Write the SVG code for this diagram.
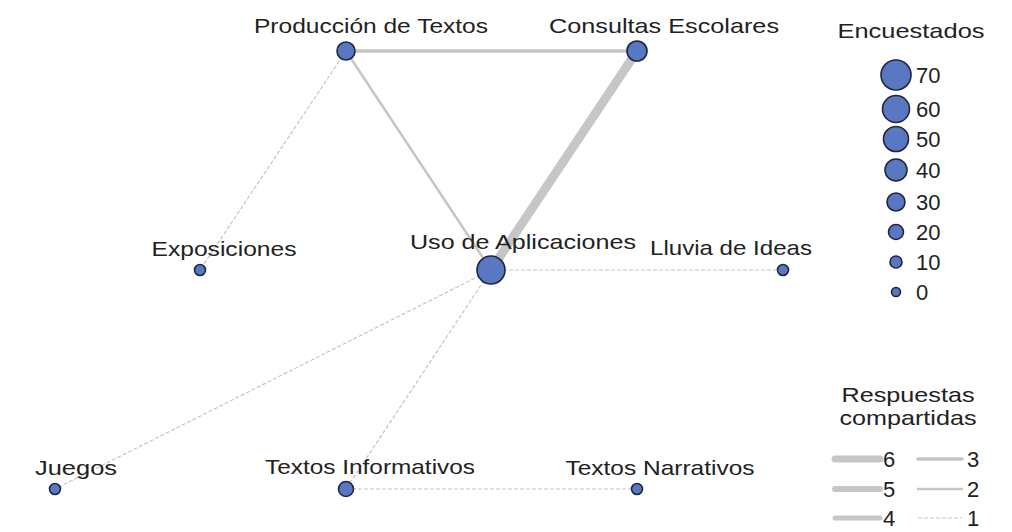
<svg xmlns="http://www.w3.org/2000/svg" width="1012" height="532" viewBox="0 0 1012 532">
<style>
text{font-family:"Liberation Sans",Arial,sans-serif;font-size:21px;fill:#222}
.lbl{text-anchor:middle}
.num{font-size:22px}
.node{fill:#5a78c2;stroke:#1e2640;stroke-width:1.6}
.e{stroke:#c6c6c6;fill:none;stroke-linecap:round}
.d{stroke:#c6c6c6;fill:none;stroke-width:1.2;stroke-dasharray:4 2}
</style>
<rect width="1012" height="532" fill="#fff"/>
<g id="connectors">
<line class="e" x1="346" y1="51" x2="637" y2="51" stroke-width="3.5"/>
<line class="e" x1="346" y1="51" x2="491" y2="270" stroke-width="2.5"/>
<line class="e" x1="637" y1="51" x2="491" y2="270" stroke-width="9"/>
<line class="d" x1="346" y1="51" x2="200" y2="270"/>
<line class="d" x1="491" y1="270" x2="783" y2="270"/>
<line class="d" x1="491" y1="270" x2="55" y2="489"/>
<line class="d" x1="491" y1="270" x2="346" y2="489"/>
<line class="d" x1="346" y1="489" x2="637" y2="489"/>
</g>
<g id="n-produccion"><circle class="node" cx="346" cy="51" r="9"/><text class="lbl" x="371" y="33" textLength="234" lengthAdjust="spacingAndGlyphs">Producción de Textos</text></g>
<g id="n-consultas"><circle class="node" cx="637" cy="51" r="10"/><text class="lbl" x="664" y="33" textLength="230" lengthAdjust="spacingAndGlyphs">Consultas Escolares</text></g>
<g id="n-exposiciones"><circle class="node" cx="200" cy="270" r="5.5"/><text class="lbl" x="224" y="256" textLength="145" lengthAdjust="spacingAndGlyphs">Exposiciones</text></g>
<g id="n-uso"><circle class="node" cx="491" cy="270" r="14"/><text class="lbl" x="523" y="249" textLength="226" lengthAdjust="spacingAndGlyphs">Uso de Aplicaciones</text></g>
<g id="n-lluvia"><circle class="node" cx="783" cy="270" r="5.5"/><text class="lbl" x="731" y="255" textLength="162" lengthAdjust="spacingAndGlyphs">Lluvia de Ideas</text></g>
<g id="n-juegos"><circle class="node" cx="55" cy="489" r="5.5"/><text class="lbl" x="76" y="475" textLength="82" lengthAdjust="spacingAndGlyphs">Juegos</text></g>
<g id="n-informativos"><circle class="node" cx="346" cy="489" r="7.5"/><text class="lbl" x="370" y="474" textLength="210" lengthAdjust="spacingAndGlyphs">Textos Informativos</text></g>
<g id="n-narrativos"><circle class="node" cx="637" cy="489" r="5.5"/><text class="lbl" x="660" y="475" textLength="189" lengthAdjust="spacingAndGlyphs">Textos Narrativos</text></g>
<g id="legend-size">
<text class="lbl" x="911" y="38" textLength="147" lengthAdjust="spacingAndGlyphs">Encuestados</text>
<circle class="node" cx="896" cy="75" r="15"/><text class="num" x="916" y="83">70</text>
<circle class="node" cx="896" cy="109" r="13.5"/><text class="num" x="916" y="117">60</text>
<circle class="node" cx="896" cy="139" r="12.5"/><text class="num" x="916" y="147">50</text>
<circle class="node" cx="896" cy="170" r="11"/><text class="num" x="916" y="178">40</text>
<circle class="node" cx="896" cy="202" r="9"/><text class="num" x="916" y="210">30</text>
<circle class="node" cx="896" cy="232" r="7.5"/><text class="num" x="916" y="240">20</text>
<circle class="node" cx="896" cy="262" r="6"/><text class="num" x="916" y="270">10</text>
<circle class="node" cx="896" cy="292" r="4.5"/><text class="num" x="916" y="300">0</text>
</g>
<g id="legend-width">
<text class="lbl" x="908" y="402" textLength="133" lengthAdjust="spacingAndGlyphs">Respuestas</text>
<text class="lbl" x="908" y="425" textLength="137" lengthAdjust="spacingAndGlyphs">compartidas</text>
<line class="e" x1="835" y1="459" x2="880" y2="459" stroke-width="7"/><text class="num" x="883" y="467">6</text>
<line class="e" x1="835" y1="489" x2="880" y2="489" stroke-width="6"/><text class="num" x="883" y="497">5</text>
<line class="e" x1="835" y1="518" x2="880" y2="518" stroke-width="5"/><text class="num" x="883" y="526">4</text>
<line class="e" x1="918" y1="459" x2="962" y2="459" stroke-width="3.5"/><text class="num" x="967" y="467">3</text>
<line class="e" x1="918" y1="489" x2="962" y2="489" stroke-width="2.5"/><text class="num" x="967" y="497">2</text>
<line class="d" x1="918" y1="518" x2="962" y2="518"/><text class="num" x="967" y="526">1</text>
</g>
</svg>
